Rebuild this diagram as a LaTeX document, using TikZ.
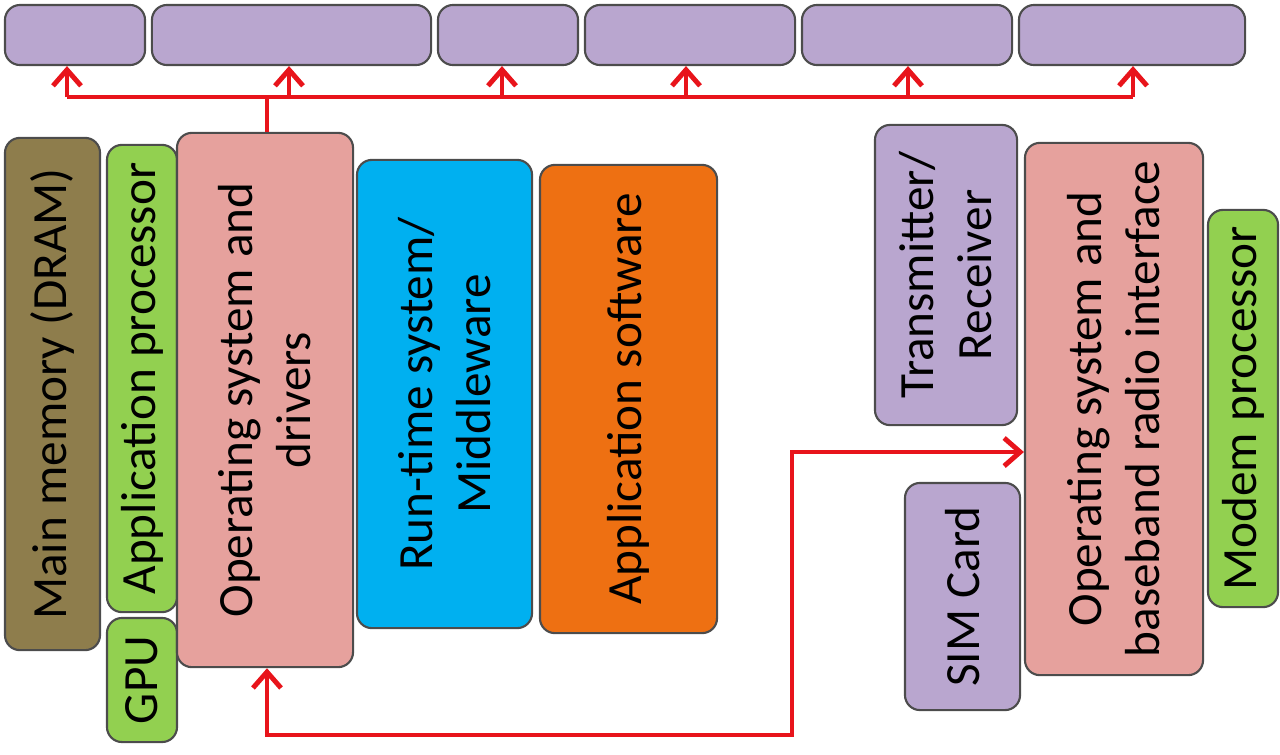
\documentclass[tikz,border=0pt]{standalone}
\usepackage{fontspec}
\setmainfont{Carlito}
\usetikzlibrary{arrows.meta}
\definecolor{lav}{HTML}{B9A6CF}
\definecolor{olive}{HTML}{8E7D4C}
\definecolor{grn}{HTML}{92D050}
\definecolor{pnk}{HTML}{E6A19D}
\definecolor{cyn}{HTML}{00B0F0}
\definecolor{org}{HTML}{EE7012}
\definecolor{wire}{HTML}{E8141B}
\tikzset{
  blk/.style={draw=black!70, line width=0.6pt, rounded corners=0.15cm, inner sep=0pt,
    font=\fontsize{14}{16.5}\selectfont, align=center},
  vblk/.style={blk, rotate=90},
  tip/.tip={Straight Barb[length=1.6mm,width=2.8mm]},
  arr/.style={draw=wire, line width=1.4pt, -tip}
}
\begin{document}
\begin{tikzpicture}[x=0.01cm, y=-0.01cm]
    \useasboundingbox (0,0) rectangle (1280,754);

    \node[blk, fill=lav, minimum width=1.4cm, minimum height=0.6cm] (t1) at (75,35) {};
    \node[blk, fill=lav, minimum width=2.79cm, minimum height=0.6cm] (t2) at (291.5,35) {};
    \node[blk, fill=lav, minimum width=1.4cm, minimum height=0.6cm] (t3) at (508,35) {};
    \node[blk, fill=lav, minimum width=2.1cm, minimum height=0.6cm] (t4) at (690,35) {};
    \node[blk, fill=lav, minimum width=2.1cm, minimum height=0.6cm] (t5) at (907,35) {};
    \node[blk, fill=lav, minimum width=2.26cm, minimum height=0.6cm] (t6) at (1132,35) {};

    \node[vblk, fill=olive, minimum width=5.12cm, minimum height=0.95cm] (mem) at (52.5,394) {Main memory (DRAM)};
    \node[vblk, fill=grn, minimum width=4.67cm, minimum height=0.7cm] (ap) at (142,378.5) {Application processor};
    \node[vblk, fill=grn, minimum width=1.24cm, minimum height=0.7cm] (gpu) at (142,680) {GPU};
    \node[vblk, fill=pnk, minimum width=5.34cm, minimum height=1.76cm] (os) at (265,400) {Operating system and\\drivers};
    \node[vblk, fill=cyn, minimum width=4.68cm, minimum height=1.75cm] (rt) at (444.5,394) {Run-time system/\\Middleware};
    \node[vblk, fill=org, minimum width=4.68cm, minimum height=1.77cm] (app) at (628.5,399) {Application software};

    \node[vblk, fill=lav, minimum width=3.0cm, minimum height=1.42cm] (trx) at (946,275) {Transmitter/\\Receiver};
    \node[vblk, fill=lav, minimum width=2.27cm, minimum height=1.15cm] (sim) at (962.5,596.5) {SIM Card};
    \node[vblk, fill=pnk, minimum width=5.32cm, minimum height=1.78cm] (bb) at (1114,409) {Operating system and\\baseband radio interface};
    \node[vblk, fill=grn, minimum width=3.97cm, minimum height=0.7cm] (mp) at (1243,408.5) {Modem processor};

    % bus to the top row
    \coordinate (up) at (267,97);
    \coordinate (b1) at (67,97);
    \coordinate (b2) at (289,97);
    \coordinate (b3) at (502,97);
    \coordinate (b4) at (686,97);
    \coordinate (b5) at (908,97);
    \coordinate (b6) at (1133,97);
    \draw[draw=wire, line width=1.4pt] (os.east -| up) -- (up);
    \draw[draw=wire, line width=1.4pt] (b1) -- (b6);
    \draw[arr] (b1) -- (b1 |- t1.south);
    \draw[arr] (b2) -- (b2 |- t2.south);
    \draw[arr] (b3) -- (b3 |- t3.south);
    \draw[arr] (b4) -- (b4 |- t4.south);
    \draw[arr] (b5) -- (b5 |- t5.south);
    \draw[arr] (b6) -- (b6 |- t6.south);

    % link to the modem side
    \coordinate (c1) at (267,735);
    \coordinate (c2) at (792,735);
    \coordinate (c3) at (792,452);
    \draw[arr, tip-tip] (c1 |- os.west) -- (c1) -- (c2) -- (c3) -- (c3 -| bb.north);
\end{tikzpicture}
\end{document}
